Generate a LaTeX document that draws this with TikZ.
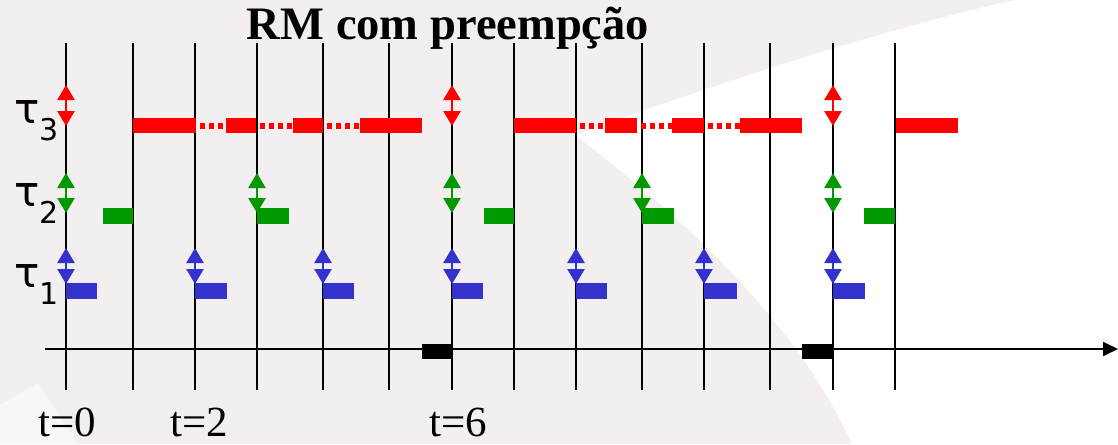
\documentclass[tikz,border=0pt]{standalone}
\usepackage{fontspec}
\setmainfont{Liberation Serif}
\newfontfamily\dejavu{DejaVu Sans}
\usetikzlibrary{arrows.meta}
\definecolor{bgc}{RGB}{243,239,240}
\definecolor{bglight}{RGB}{248,246,247}
\definecolor{rd}{RGB}{255,0,0}
\definecolor{gr}{RGB}{0,153,0}
\definecolor{bl}{RGB}{51,51,204}
\begin{document}
\begin{tikzpicture}[x=1pt,y=-1pt,
  vline/.style={line width=1.8pt, black},
  gapdots/.style={rd, line width=6pt, dash pattern=on 5pt off 4pt, dash phase=5pt},
  rel/.style={#1, line width=2.6pt, {Triangle[length=15pt,width=17pt]}-{Triangle[length=15pt,width=17pt]}},
  tlabel/.style={anchor=base west, inner sep=0pt, font=\dejavu},
  timelabel/.style={anchor=base, inner sep=0pt, font=\fontsize{43}{43}\selectfont},
]
\useasboundingbox (0,0) rectangle (1118,444);
% background
\fill[bgc] (0,0) rectangle (1118,444);
\fill[white] (575,135) .. controls (700,230) and (800,330) .. (852,444) -- (1118,444) -- (1118,0) -- (1015,0) .. controls (900,25) and (740,75) .. (575,135) -- cycle;
\fill[bglight] (0,405) -- (38,383) -- (78,444) -- (0,444) -- cycle;

% vertical time lines
\foreach \x in {66,133,195,257,323,389,452,514,576,642,704,770,833,895}
  \draw[vline] (\x,43) -- (\x,390);

% time axis
\coordinate (axs) at (45,349);
\coordinate (axe) at (1118,349);
\draw[line width=1.8pt, -{Triangle[length=15pt,width=14pt]}] (axs) -- (axe);

% tau3 dotted (preempted) parts
\foreach \a/\b in {196/226,256/293,323/360,576/605,637/672,704/740}
  \draw[gapdots] (\a,125.5) -- (\b,125.5);
% tau3 execution
\foreach \a/\b in {133/196,226/256,293/323,360/422,514/576,605/637,672/704,740/802,896/958}
  \fill[rd] (\a,118) rectangle (\b,133);
% tau2 execution
\foreach \a/\b in {103/133,257/289,484/514,642/674,864/895}
  \fill[gr] (\a,208) rectangle (\b,224);
% tau1 execution
\foreach \a/\b in {66/97,195/227,323/354,452/483,576/607,704/737,833/865}
  \fill[bl] (\a,283) rectangle (\b,299);
% idle
\foreach \a/\b in {422/453,802/833}
  \fill[black] (\a,344) rectangle (\b,359);

% releases
\foreach \x in {66,452,833}
  \draw[rel=rd] (\x,85) -- (\x,126);
\foreach \x in {66,257,452,642,833}
  \draw[rel=gr] (\x,173) -- (\x,213);
\foreach \x in {66,195,323,452,576,704,833}
  \draw[rel=bl] (\x,248) -- (\x,284);

% task labels
\node[tlabel] (t3) at (14,123) {\fontsize{42}{42}\selectfont τ\raisebox{-17pt}{\fontsize{30}{30}\selectfont 3}};
\node[tlabel] (t2) at (14,206) {\fontsize{42}{42}\selectfont τ\raisebox{-17pt}{\fontsize{30}{30}\selectfont 2}};
\node[tlabel] (t1) at (14,287) {\fontsize{42}{42}\selectfont τ\raisebox{-17pt}{\fontsize{30}{30}\selectfont 1}};

% title
\node[anchor=base, inner sep=0pt, font=\bfseries\fontsize{46.5}{46.5}\selectfont] (title) at (448,40) {RM com preempção};

% time labels
\node[timelabel] (l0) at (67,436) {\smash{t=0}};
\node[timelabel] (l2) at (199,436) {\smash{t=2}};
\node[timelabel] (l6) at (458,436) {\smash{t=6}};
\end{tikzpicture}
\end{document}
